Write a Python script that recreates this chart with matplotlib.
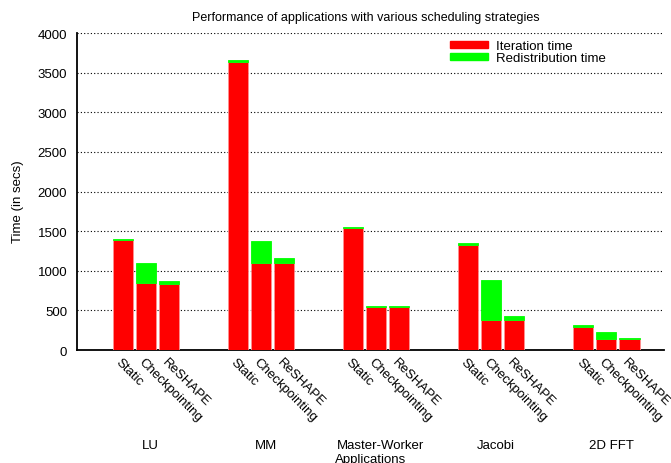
import numpy as np
import matplotlib.pyplot as plt
from matplotlib.patches import Patch

plt.rcParams['font.family'] = ['Liberation Sans', 'DejaVu Sans']

apps = ["LU", "MM", "Master-Worker", "Jacobi", "2D FFT"]
strategies = ["Static", "Checkpointing", "ReSHAPE"]

# one row per application, one column per strategy
iteration = [
    [1385, 840, 833],
    [3635, 1098, 1098],
    [1540, 545, 545],
    [1330, 383, 383],
    [294, 135, 135],
]
redistribution = [
    [15, 262, 37],
    [25, 277, 63],
    [15, 8, 8],
    [16, 505, 42],
    [20, 92, 20],
]

iteration = np.array(iteration)
redistribution = np.array(redistribution)

fig = plt.figure(figsize=(6.71, 4.64), dpi=100)
ax = fig.add_axes([0.1148, 0.2435, 0.8748, 0.6832])

pos = []
for g in range(len(apps)):
    for s in range(len(strategies)):
        pos.append(5 * g + s)
pos = np.array(pos)
it = iteration.flatten()
rd = redistribution.flatten()

w = 0.87
ax.bar(pos, it, width=w, color="#ff0000", edgecolor="#ff9090", linewidth=0.6, zorder=3)
ax.bar(pos, rd, width=w, bottom=it, color="#00ff00", edgecolor="#00ff00", linewidth=0.6, zorder=3)

ax.set_xlim(-2, 23.5)
ax.set_ylim(0, 4000)
ax.set_yticks(np.arange(0, 4001, 500))
ax.yaxis.grid(True, linestyle=(0, (1, 2)), color="black", linewidth=0.8)
ax.set_axisbelow(True)
for sp in ["top", "right"]:
    ax.spines[sp].set_visible(False)
ax.spines["left"].set_linewidth(1.3)
ax.spines["bottom"].set_linewidth(1.3)
ax.tick_params(axis="both", length=0, labelsize=9.5)
ax.tick_params(axis="y", pad=7)

ax.set_xticks(pos - 0.05)
ax.set_xticklabels(strategies * len(apps), rotation=-45, ha="left", va="top",
                   rotation_mode="anchor", fontsize=9.5)
ax.tick_params(axis="x", pad=4)

for g, name in enumerate(apps):
    ax.text(5 * g + 1.2, -0.30, name, transform=ax.get_xaxis_transform(),
            ha="center", va="center", fontsize=9.5)
ax.text(0.5, -0.345, "Applications", transform=ax.transAxes,
        ha="center", va="center", fontsize=9.5)

ax.set_ylabel("Time (in secs)", fontsize=9.5)
ax.yaxis.set_label_coords(-0.09, 0.47)
fig.text(0.545, 0.962, "Performance of applications with various scheduling strategies",
         ha="center", va="center", fontsize=9)

handles = [Patch(color="#ff0000"), Patch(color="#00ff00")]
ax.legend(handles, ["Iteration time", "Redistribution time"], loc="upper left",
          bbox_to_anchor=(0.615, 1.015), frameon=False, fontsize=9.5,
          handlelength=2.9, handleheight=0.5, labelspacing=0.0, handletextpad=0.6)

fig.savefig("out.png", dpi=100)
